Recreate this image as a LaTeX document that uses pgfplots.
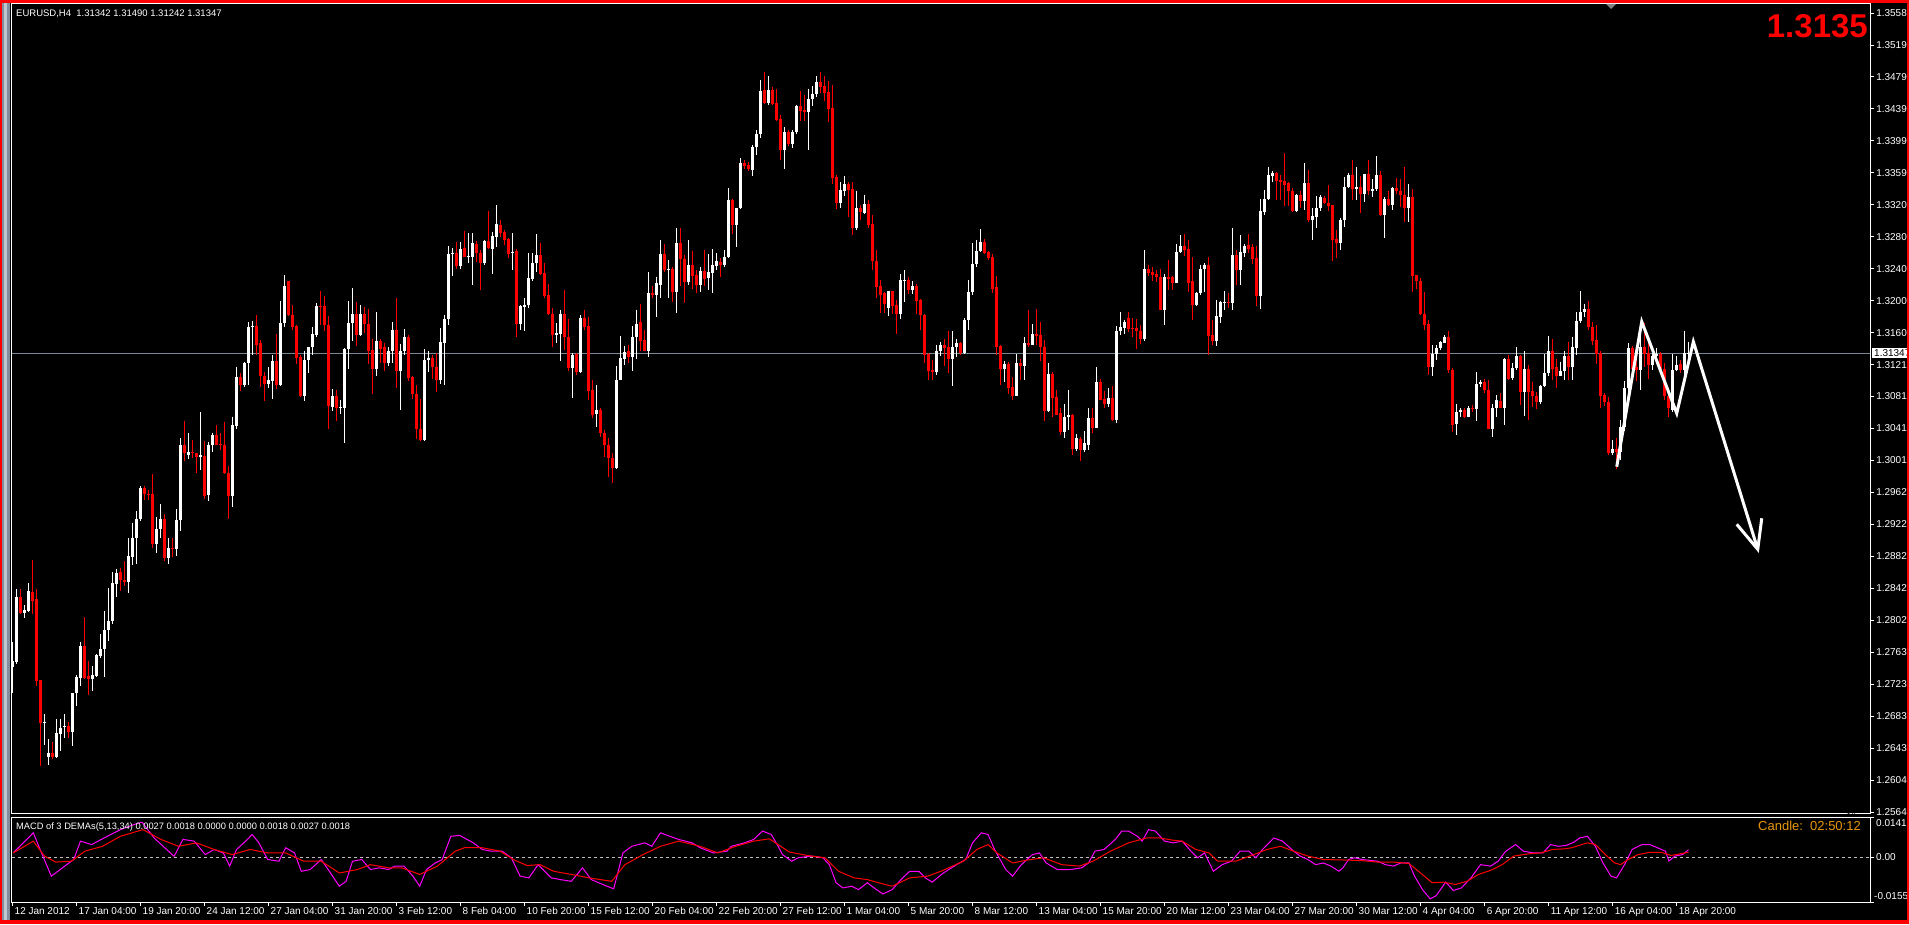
\documentclass[border=0pt]{standalone}
\usepackage{fontspec}
\setmainfont{Liberation Sans}
\usepackage{pgfplots}
\usepackage{pgfplotstable}
\pgfplotsset{compat=1.18}
\definecolor{mtred}{RGB}{255,0,0}
\definecolor{mtmag}{RGB}{255,0,255}
\definecolor{pline}{RGB}{119,136,153}
\definecolor{candleor}{RGB}{232,150,10}
\definecolor{winA}{RGB}{130,142,156}
\definecolor{winB}{RGB}{190,198,206}

\pgfplotstableread{
x o h l c
0 1.2744 1.2775 1.2712 1.2752
1 1.2750 1.2842 1.2748 1.2832
3 1.2812 1.2821 1.2805 1.2815
4 1.2814 1.2849 1.2813 1.2839
8 1.2675 1.2686 1.2647 1.2676
9 1.2632 1.2655 1.2622 1.2638
11 1.2632 1.2680 1.2631 1.2662
12 1.2661 1.2680 1.2640 1.2669
13 1.2670 1.2686 1.2656 1.2671
15 1.2664 1.2712 1.2646 1.2712
16 1.2712 1.2734 1.2696 1.2732
17 1.2731 1.2776 1.2721 1.2770
20 1.2730 1.2745 1.2715 1.2734
21 1.2733 1.2761 1.2732 1.2759
22 1.2758 1.2785 1.2756 1.2767
23 1.2767 1.2814 1.2732 1.2791
24 1.2791 1.2843 1.2777 1.2802
25 1.2801 1.2862 1.2798 1.2849
26 1.2848 1.2866 1.2832 1.2861
29 1.2850 1.2905 1.2837 1.2882
30 1.2881 1.2924 1.2871 1.2905
31 1.2905 1.2938 1.2872 1.2929
32 1.2928 1.2969 1.2926 1.2967
36 1.2898 1.2931 1.2886 1.2916
37 1.2916 1.2947 1.2905 1.2929
39 1.2880 1.2905 1.2873 1.2893
41 1.2891 1.2941 1.2882 1.2927
42 1.2927 1.3029 1.2913 1.3020
44 1.3008 1.3035 1.3003 1.3012
47 1.3006 1.3061 1.2990 1.3008
49 1.2958 1.3024 1.2951 1.3021
50 1.3020 1.3036 1.3012 1.3033
55 1.2957 1.3056 1.2944 1.3045
56 1.3044 1.3118 1.3041 1.3105
58 1.3095 1.3124 1.3093 1.3123
59 1.3122 1.3174 1.3095 1.3167
60 1.3167 1.3175 1.3133 1.3169
64 1.3097 1.3117 1.3092 1.3101
65 1.3100 1.3132 1.3078 1.3125
67 1.3095 1.3200 1.3094 1.3172
68 1.3172 1.3232 1.3167 1.3218
73 1.3081 1.3138 1.3075 1.3126
74 1.3126 1.3143 1.3110 1.3142
75 1.3142 1.3167 1.3132 1.3159
76 1.3157 1.3197 1.3155 1.3194
80 1.3068 1.3090 1.3063 1.3081
82 1.3066 1.3076 1.3059 1.3068
83 1.3066 1.3141 1.3023 1.3140
84 1.3140 1.3200 1.3115 1.3172
85 1.3172 1.3216 1.3150 1.3183
87 1.3157 1.3195 1.3156 1.3183
91 1.3115 1.3186 1.3106 1.3150
94 1.3122 1.3142 1.3119 1.3137
95 1.3137 1.3173 1.3122 1.3164
97 1.3113 1.3146 1.3064 1.3137
98 1.3137 1.3165 1.3133 1.3155
103 1.3027 1.3140 1.3025 1.3126
104 1.3126 1.3137 1.3111 1.3129
107 1.3101 1.3166 1.3097 1.3149
108 1.3148 1.3182 1.3095 1.3177
109 1.3177 1.3268 1.3170 1.3258
110 1.3258 1.3266 1.3231 1.3260
112 1.3243 1.3273 1.3240 1.3265
114 1.3255 1.3284 1.3247 1.3256
115 1.3255 1.3284 1.3219 1.3272
118 1.3247 1.3276 1.3244 1.3274
120 1.3265 1.3285 1.3233 1.3280
121 1.3279 1.3319 1.3267 1.3295
125 1.3259 1.3284 1.3238 1.3261
127 1.3171 1.3195 1.3164 1.3193
128 1.3192 1.3203 1.3162 1.3195
129 1.3195 1.3260 1.3191 1.3228
130 1.3227 1.3259 1.3224 1.3247
131 1.3247 1.3283 1.3236 1.3257
136 1.3157 1.3172 1.3147 1.3160
137 1.3159 1.3189 1.3125 1.3184
140 1.3116 1.3135 1.3079 1.3133
142 1.3111 1.3182 1.3110 1.3178
146 1.3059 1.3095 1.3043 1.3064
151 1.2992 1.3119 1.2991 1.3102
152 1.3102 1.3156 1.3101 1.3129
153 1.3128 1.3144 1.3120 1.3136
155 1.3130 1.3168 1.3113 1.3155
156 1.3155 1.3189 1.3128 1.3171
159 1.3137 1.3236 1.3130 1.3210
161 1.3207 1.3230 1.3180 1.3222
162 1.3220 1.3276 1.3204 1.3258
164 1.3238 1.3251 1.3204 1.3240
166 1.3211 1.3291 1.3185 1.3272
169 1.3223 1.3275 1.3220 1.3245
172 1.3220 1.3242 1.3211 1.3237
174 1.3228 1.3258 1.3213 1.3236
175 1.3235 1.3264 1.3210 1.3245
176 1.3243 1.3259 1.3238 1.3249
178 1.3244 1.3263 1.3242 1.3255
179 1.3254 1.3340 1.3253 1.3325
181 1.3294 1.3316 1.3267 1.3315
182 1.3315 1.3377 1.3314 1.3372
185 1.3363 1.3394 1.3355 1.3391
186 1.3391 1.3412 1.3381 1.3408
187 1.3408 1.3475 1.3402 1.3461
189 1.3446 1.3479 1.3444 1.3462
193 1.3387 1.3416 1.3364 1.3410
195 1.3395 1.3412 1.3390 1.3410
196 1.3410 1.3444 1.3408 1.3442
199 1.3435 1.3464 1.3388 1.3451
200 1.3451 1.3467 1.3442 1.3457
201 1.3457 1.3479 1.3453 1.3472
207 1.3322 1.3348 1.3316 1.3338
208 1.3337 1.3355 1.3330 1.3345
211 1.3290 1.3337 1.3288 1.3315
213 1.3309 1.3332 1.3308 1.3320
219 1.3191 1.3212 1.3181 1.3212
222 1.3184 1.3233 1.3177 1.3226
223 1.3225 1.3238 1.3199 1.3226
225 1.3213 1.3224 1.3208 1.3218
231 1.3111 1.3145 1.3108 1.3138
232 1.3138 1.3149 1.3131 1.3145
235 1.3128 1.3162 1.3094 1.3142
236 1.3142 1.3152 1.3130 1.3147
238 1.3135 1.3178 1.3134 1.3176
239 1.3176 1.3226 1.3164 1.3211
240 1.3211 1.3272 1.3207 1.3246
241 1.3246 1.3276 1.3242 1.3262
242 1.3262 1.3289 1.3261 1.3273
248 1.3115 1.3125 1.3099 1.3121
251 1.3081 1.3134 1.3081 1.3123
253 1.3119 1.3155 1.3101 1.3148
255 1.3145 1.3171 1.3145 1.3159
259 1.3063 1.3122 1.3061 1.3109
263 1.3037 1.3072 1.3029 1.3056
264 1.3055 1.3089 1.3039 1.3058
266 1.3016 1.3034 1.3013 1.3029
268 1.3014 1.3038 1.3012 1.3023
269 1.3020 1.3066 1.3014 1.3054
271 1.3042 1.3117 1.3042 1.3099
274 1.3071 1.3091 1.3068 1.3079
276 1.3052 1.3168 1.3048 1.3162
277 1.3162 1.3186 1.3157 1.3167
278 1.3166 1.3176 1.3159 1.3173
283 1.3152 1.3263 1.3150 1.3240
288 1.3188 1.3233 1.3170 1.3230
291 1.3222 1.3271 1.3222 1.3261
292 1.3261 1.3282 1.3259 1.3268
296 1.3195 1.3211 1.3194 1.3210
297 1.3210 1.3245 1.3207 1.3240
298 1.3239 1.3247 1.3211 1.3245
301 1.3150 1.3201 1.3144 1.3181
302 1.3180 1.3200 1.3172 1.3198
303 1.3197 1.3212 1.3189 1.3199
305 1.3197 1.3291 1.3189 1.3257
307 1.3238 1.3282 1.3220 1.3261
308 1.3260 1.3271 1.3255 1.3268
312 1.3206 1.3327 1.3190 1.3312
313 1.3311 1.3338 1.3307 1.3326
314 1.3326 1.3367 1.3325 1.3356
315 1.3355 1.3362 1.3348 1.3359
321 1.3312 1.3333 1.3310 1.3331
323 1.3324 1.3371 1.3313 1.3346
325 1.3300 1.3315 1.3276 1.3305
326 1.3304 1.3330 1.3290 1.3315
327 1.3315 1.3331 1.3312 1.3329
332 1.3272 1.3303 1.3263 1.3301
333 1.3300 1.3354 1.3292 1.3342
334 1.3342 1.3359 1.3340 1.3356
336 1.3339 1.3367 1.3325 1.3341
338 1.3333 1.3358 1.3323 1.3358
340 1.3337 1.3351 1.3329 1.3339
341 1.3339 1.3380 1.3337 1.3356
343 1.3307 1.3329 1.3278 1.3327
345 1.3319 1.3341 1.3313 1.3340
349 1.3316 1.3345 1.3298 1.3329
355 1.3118 1.3145 1.3106 1.3134
356 1.3134 1.3145 1.3126 1.3141
357 1.3141 1.3150 1.3139 1.3149
358 1.3148 1.3157 1.3147 1.3155
361 1.3047 1.3072 1.3033 1.3061
362 1.3061 1.3066 1.3056 1.3064
364 1.3056 1.3069 1.3055 1.3066
366 1.3065 1.3111 1.3050 1.3096
367 1.3096 1.3102 1.3093 1.3099
370 1.3041 1.3072 1.3031 1.3067
371 1.3067 1.3083 1.3055 1.3076
373 1.3067 1.3129 1.3045 1.3128
375 1.3104 1.3122 1.3101 1.3116
376 1.3116 1.3142 1.3114 1.3131
378 1.3087 1.3137 1.3057 1.3115
382 1.3074 1.3095 1.3071 1.3094
383 1.3094 1.3134 1.3093 1.3110
384 1.3110 1.3156 1.3106 1.3137
387 1.3106 1.3124 1.3106 1.3113
388 1.3112 1.3138 1.3101 1.3131
390 1.3117 1.3155 1.3101 1.3143
391 1.3141 1.3186 1.3133 1.3175
392 1.3175 1.3212 1.3172 1.3186
393 1.3186 1.3196 1.3180 1.3190
400 1.3011 1.3027 1.3008 1.3016
402 1.3012 1.3052 1.3002 1.3043
403 1.3043 1.3100 1.3038 1.3091
404 1.3091 1.3147 1.3085 1.3141
407 1.3114 1.3163 1.3089 1.3143
410 1.3120 1.3142 1.3114 1.3131
411 1.3131 1.3141 1.3122 1.3134
415 1.3064 1.3134 1.3062 1.3114
416 1.3114 1.3131 1.3113 1.3120
418 1.3114 1.3163 1.3107 1.3135
419 1.31342 1.31490 1.31242 1.31347
}\bull

\pgfplotstableread{
x o h l c
2 1.2832 1.2842 1.2810 1.2812
5 1.2838 1.2877 1.2810 1.2826
6 1.2829 1.2841 1.2721 1.2727
7 1.2728 1.2728 1.2621 1.2675
10 1.2638 1.2651 1.2630 1.2633
14 1.2671 1.2676 1.2656 1.2664
18 1.2770 1.2806 1.2730 1.2731
19 1.2733 1.2752 1.2709 1.2730
27 1.2862 1.2868 1.2839 1.2852
28 1.2852 1.2876 1.2845 1.2850
33 1.2967 1.2970 1.2952 1.2959
34 1.2960 1.2964 1.2952 1.2959
35 1.2960 1.2984 1.2893 1.2898
38 1.2929 1.2935 1.2876 1.2880
40 1.2893 1.2905 1.2881 1.2891
43 1.3020 1.3051 1.3001 1.3010
45 1.3012 1.3027 1.3004 1.3010
46 1.3010 1.3011 1.2986 1.3006
48 1.3007 1.3026 1.2953 1.2957
51 1.3033 1.3045 1.3020 1.3021
52 1.3022 1.3036 1.3014 1.3020
53 1.3021 1.3049 1.2984 1.2986
54 1.2986 1.2995 1.2928 1.2957
57 1.3105 1.3110 1.3088 1.3095
61 1.3168 1.3182 1.3133 1.3145
62 1.3148 1.3151 1.3093 1.3106
63 1.3106 1.3111 1.3075 1.3097
66 1.3125 1.3159 1.3090 1.3095
69 1.3225 1.3225 1.3181 1.3182
70 1.3182 1.3195 1.3164 1.3167
71 1.3168 1.3170 1.3121 1.3129
72 1.3130 1.3132 1.3080 1.3081
77 1.3194 1.3212 1.3170 1.3193
78 1.3194 1.3206 1.3162 1.3170
79 1.3170 1.3181 1.3040 1.3069
81 1.3081 1.3089 1.3051 1.3066
86 1.3183 1.3198 1.3144 1.3157
88 1.3183 1.3192 1.3160 1.3171
89 1.3171 1.3190 1.3121 1.3137
90 1.3139 1.3152 1.3084 1.3115
92 1.3150 1.3152 1.3122 1.3140
93 1.3142 1.3148 1.3113 1.3122
96 1.3164 1.3203 1.3092 1.3113
99 1.3155 1.3158 1.3100 1.3104
100 1.3105 1.3106 1.3078 1.3084
101 1.3084 1.3095 1.3028 1.3040
102 1.3041 1.3078 1.3026 1.3027
105 1.3129 1.3132 1.3103 1.3118
106 1.3118 1.3135 1.3087 1.3102
111 1.3259 1.3273 1.3240 1.3243
113 1.3266 1.3287 1.3254 1.3255
116 1.3271 1.3274 1.3248 1.3259
117 1.3260 1.3263 1.3214 1.3247
119 1.3274 1.3312 1.3264 1.3266
122 1.3294 1.3301 1.3279 1.3284
123 1.3285 1.3288 1.3269 1.3276
124 1.3277 1.3278 1.3253 1.3258
126 1.3262 1.3264 1.3155 1.3171
132 1.3257 1.3272 1.3232 1.3233
133 1.3234 1.3247 1.3203 1.3206
134 1.3207 1.3221 1.3182 1.3184
135 1.3184 1.3191 1.3143 1.3157
138 1.3184 1.3214 1.3139 1.3155
139 1.3155 1.3177 1.3113 1.3116
141 1.3134 1.3135 1.3108 1.3111
143 1.3178 1.3189 1.3164 1.3167
144 1.3168 1.3180 1.3077 1.3088
145 1.3089 1.3101 1.3054 1.3058
147 1.3064 1.3066 1.3031 1.3035
148 1.3035 1.3039 1.3006 1.3021
149 1.3021 1.3029 1.2981 1.3004
150 1.3005 1.3011 1.2973 1.2992
154 1.3137 1.3145 1.3122 1.3130
157 1.3173 1.3196 1.3137 1.3150
158 1.3151 1.3164 1.3137 1.3137
160 1.3210 1.3218 1.3204 1.3207
163 1.3258 1.3271 1.3236 1.3238
165 1.3240 1.3242 1.3198 1.3211
167 1.3272 1.3290 1.3218 1.3252
168 1.3252 1.3257 1.3197 1.3223
170 1.3245 1.3262 1.3215 1.3231
171 1.3232 1.3238 1.3210 1.3220
173 1.3237 1.3263 1.3218 1.3227
177 1.3248 1.3253 1.3230 1.3244
180 1.3325 1.3326 1.3283 1.3294
183 1.3371 1.3375 1.3364 1.3368
184 1.3369 1.3373 1.3361 1.3364
188 1.3462 1.3484 1.3445 1.3446
190 1.3462 1.3466 1.3444 1.3445
191 1.3446 1.3464 1.3424 1.3425
192 1.3426 1.3431 1.3375 1.3387
194 1.3410 1.3412 1.3392 1.3395
197 1.3442 1.3461 1.3424 1.3436
198 1.3437 1.3456 1.3424 1.3435
202 1.3472 1.3485 1.3458 1.3466
203 1.3467 1.3479 1.3448 1.3459
204 1.3460 1.3473 1.3422 1.3439
205 1.3440 1.3468 1.3345 1.3353
206 1.3354 1.3356 1.3314 1.3322
209 1.3345 1.3348 1.3304 1.3338
210 1.3339 1.3348 1.3282 1.3290
212 1.3315 1.3319 1.3300 1.3310
214 1.3320 1.3325 1.3291 1.3294
215 1.3295 1.3307 1.3238 1.3249
216 1.3249 1.3263 1.3204 1.3217
217 1.3218 1.3226 1.3185 1.3207
218 1.3210 1.3211 1.3185 1.3196
220 1.3212 1.3212 1.3184 1.3194
221 1.3195 1.3201 1.3159 1.3184
224 1.3226 1.3230 1.3209 1.3213
226 1.3218 1.3221 1.3184 1.3200
227 1.3201 1.3202 1.3164 1.3182
228 1.3182 1.3184 1.3123 1.3133
229 1.3134 1.3135 1.3101 1.3113
230 1.3114 1.3126 1.3101 1.3111
233 1.3145 1.3152 1.3119 1.3141
234 1.3142 1.3162 1.3110 1.3128
237 1.3147 1.3149 1.3132 1.3135
243 1.3273 1.3277 1.3258 1.3260
244 1.3261 1.3262 1.3251 1.3253
245 1.3254 1.3258 1.3210 1.3215
246 1.3217 1.3231 1.3132 1.3143
247 1.3144 1.3145 1.3095 1.3115
249 1.3121 1.3124 1.3084 1.3092
250 1.3093 1.3105 1.3077 1.3081
252 1.3123 1.3127 1.3101 1.3119
254 1.3148 1.3189 1.3143 1.3145
256 1.3159 1.3190 1.3145 1.3156
257 1.3157 1.3174 1.3125 1.3142
258 1.3143 1.3151 1.3050 1.3063
260 1.3109 1.3111 1.3055 1.3079
261 1.3080 1.3089 1.3058 1.3058
262 1.3060 1.3067 1.3033 1.3037
265 1.3058 1.3059 1.3008 1.3016
267 1.3028 1.3030 1.3001 1.3014
270 1.3054 1.3067 1.3036 1.3042
272 1.3099 1.3103 1.3076 1.3077
273 1.3078 1.3088 1.3066 1.3071
275 1.3079 1.3094 1.3051 1.3052
279 1.3178 1.3186 1.3161 1.3165
280 1.3166 1.3178 1.3155 1.3165
281 1.3166 1.3177 1.3140 1.3162
282 1.3163 1.3170 1.3146 1.3153
284 1.3240 1.3245 1.3231 1.3234
285 1.3236 1.3242 1.3224 1.3232
286 1.3233 1.3238 1.3223 1.3229
287 1.3230 1.3240 1.3188 1.3188
289 1.3230 1.3251 1.3213 1.3227
290 1.3229 1.3231 1.3214 1.3222
293 1.3268 1.3283 1.3256 1.3263
294 1.3264 1.3276 1.3211 1.3222
295 1.3224 1.3254 1.3176 1.3195
299 1.3245 1.3254 1.3133 1.3156
300 1.3157 1.3176 1.3145 1.3150
304 1.3199 1.3210 1.3191 1.3197
306 1.3257 1.3263 1.3220 1.3238
309 1.3269 1.3283 1.3260 1.3265
310 1.3267 1.3271 1.3246 1.3252
311 1.3253 1.3268 1.3193 1.3206
316 1.3359 1.3360 1.3325 1.3349
317 1.3350 1.3356 1.3325 1.3348
318 1.3349 1.3384 1.3318 1.3344
319 1.3346 1.3348 1.3318 1.3336
320 1.3336 1.3340 1.3310 1.3312
322 1.3331 1.3336 1.3315 1.3324
324 1.3346 1.3363 1.3298 1.3300
328 1.3328 1.3330 1.3320 1.3321
329 1.3322 1.3344 1.3312 1.3318
330 1.3319 1.3319 1.3250 1.3276
331 1.3277 1.3288 1.3253 1.3272
335 1.3356 1.3375 1.3325 1.3339
337 1.3341 1.3355 1.3309 1.3333
339 1.3358 1.3375 1.3332 1.3337
342 1.3356 1.3361 1.3306 1.3307
344 1.3327 1.3336 1.3318 1.3319
346 1.3340 1.3353 1.3333 1.3336
347 1.3336 1.3352 1.3317 1.3332
348 1.3332 1.3366 1.3298 1.3316
350 1.3329 1.3339 1.3211 1.3231
351 1.3232 1.3232 1.3215 1.3224
352 1.3224 1.3228 1.3182 1.3183
353 1.3184 1.3211 1.3164 1.3170
354 1.3171 1.3176 1.3108 1.3118
359 1.3155 1.3162 1.3110 1.3114
360 1.3114 1.3116 1.3037 1.3045
363 1.3064 1.3066 1.3054 1.3055
365 1.3067 1.3070 1.3062 1.3065
368 1.3099 1.3103 1.3085 1.3089
369 1.3089 1.3101 1.3040 1.3041
372 1.3075 1.3085 1.3066 1.3067
374 1.3128 1.3132 1.3102 1.3103
377 1.3131 1.3133 1.3070 1.3087
379 1.3115 1.3120 1.3052 1.3087
380 1.3088 1.3099 1.3068 1.3081
381 1.3082 1.3086 1.3065 1.3074
385 1.3137 1.3152 1.3101 1.3115
386 1.3117 1.3128 1.3092 1.3107
389 1.3131 1.3149 1.3102 1.3117
394 1.3190 1.3200 1.3164 1.3167
395 1.3167 1.3174 1.3145 1.3150
396 1.3151 1.3170 1.3121 1.3134
397 1.3135 1.3137 1.3067 1.3082
398 1.3083 1.3085 1.3069 1.3074
399 1.3074 1.3080 1.3008 1.3010
401 1.3016 1.3029 1.2991 1.3012
405 1.3141 1.3144 1.3108 1.3115
406 1.3117 1.3128 1.3100 1.3114
408 1.3143 1.3172 1.3117 1.3134
409 1.3135 1.3155 1.3103 1.3120
412 1.3134 1.3136 1.3110 1.3114
413 1.3115 1.3122 1.3077 1.3081
414 1.3081 1.3085 1.3056 1.3066
417 1.3121 1.3126 1.3110 1.3114
}\bear

\pgfplotstableread{
x v
0.2 0.0016
5.2 0.0086
6.9 0.0028
9.7 -0.0065
15.3 -0.0007
17.0 0.0057
19.8 0.0045
23.7 0.0074
27.0 0.0097
30.4 0.0115
32.4 0.0123
35.4 0.0068
40.4 0.0004
42.6 0.0063
45.4 0.0057
48.2 0.0010
50.4 0.0028
52.7 0.0016
54.3 -0.0030
56.0 0.0028
58.3 0.0057
59.9 0.0080
61.6 0.0051
63.8 -0.0007
66.6 -0.0013
68.3 0.0034
70.5 0.0016
72.2 -0.0048
74.4 -0.0042
77.2 -0.0007
79.5 -0.0054
81.7 -0.0100
83.4 -0.0083
85.0 -0.0013
87.3 -0.0007
89.5 -0.0042
91.7 -0.0036
94.0 -0.0042
95.6 -0.0030
97.9 -0.0030
100.1 -0.0065
101.8 -0.0100
103.5 -0.0042
105.7 -0.0019
107.4 -0.0007
109.6 0.0074
111.8 0.0077
115.2 0.0051
117.4 0.0028
119.6 0.0022
122.4 0.0022
124.7 -0.0001
126.9 -0.0065
129.1 -0.0071
131.4 -0.0025
134.7 -0.0071
137.0 -0.0077
139.7 -0.0083
142.5 -0.0036
144.7 -0.0077
148.6 -0.0100
150.3 -0.0109
152.6 0.0016
154.8 0.0039
158.1 0.0051
159.8 0.0039
162.0 0.0086
164.3 0.0074
166.5 0.0063
169.9 0.0051
171.9 0.0034
175.2 0.0016
178.6 0.0022
179.7 0.0039
183.0 0.0051
185.3 0.0063
187.5 0.0092
189.7 0.0080
191.4 0.0039
192.5 0.0010
194.8 -0.0013
196.4 -0.0001
199.8 0.0005
202.6 -0.0001
204.2 -0.0025
205.9 -0.0088
207.6 -0.0106
209.8 -0.0100
211.5 -0.0112
213.7 -0.0088
216.0 -0.0112
217.6 -0.0127
219.9 -0.0112
222.1 -0.0077
224.3 -0.0048
226.6 -0.0048
228.2 -0.0071
229.9 -0.0086
232.7 -0.0054
236.0 -0.0025
238.3 -0.0007
240.0 0.0051
242.2 0.0086
243.9 0.0080
245.5 0.0028
248.3 -0.0042
250.0 -0.0065
252.2 -0.0025
255.0 0.0010
256.7 0.0016
258.4 -0.0019
261.2 -0.0042
264.5 -0.0042
267.3 -0.0036
269.0 -0.0019
270.6 0.0022
272.9 0.0028
275.7 0.0063
277.3 0.0092
279.0 0.0092
281.2 0.0074
282.4 0.0057
284.0 0.0097
285.7 0.0092
288.0 0.0057
290.2 0.0051
292.4 0.0057
294.6 0.0022
296.3 -0.0001
298.0 0.0016
300.2 -0.0048
302.4 -0.0025
304.7 -0.0013
306.9 0.0022
309.1 0.0022
310.8 -0.0001
312.5 0.0028
315.3 0.0068
317.5 0.0057
320.3 0.0022
321.9 0.0005
323.8 -0.0007
325.8 -0.0025
327.7 -0.0019
329.6 -0.0030
331.6 -0.0048
332.6 -0.0036
334.0 -0.0007
335.5 -0.0001
337.4 -0.0007
341.3 -0.0013
343.2 -0.0025
345.2 -0.0030
347.1 -0.0019
349.1 -0.0019
350.5 -0.0065
352.5 -0.0112
354.4 -0.0144
355.9 -0.0133
358.3 -0.0086
360.2 -0.0115
362.2 -0.0106
364.6 -0.0071
367.0 -0.0025
369.5 -0.0030
371.4 -0.0013
373.3 0.0022
375.8 0.0045
377.7 0.0022
380.1 0.0016
382.6 0.0016
384.5 0.0045
386.4 0.0039
388.4 0.0042
390.3 0.0053
391.8 0.0068
393.7 0.0074
395.7 0.0039
397.6 -0.0019
399.6 -0.0065
401.0 -0.0071
403.0 -0.0025
404.9 0.0028
407.3 0.0045
409.3 0.0045
411.2 0.0034
413.2 0.0022
414.1 -0.0012
415.6 0.0005
417.5 0.0010
419.0 0.0027
}\macd

\pgfplotstableread{
x v
0.2 0.0016
5.2 0.0057
8.0 0.0005
10.8 -0.0016
14.7 -0.0013
18.1 0.0022
22.5 0.0039
27.0 0.0074
32.6 0.0097
37.1 0.0063
41.5 0.0039
46.0 0.0051
50.4 0.0028
54.9 0.0010
59.4 0.0028
63.8 0.0016
68.3 0.0016
72.8 -0.0013
77.2 -0.0013
81.7 -0.0054
86.2 -0.0042
89.5 -0.0025
94.0 -0.0036
97.3 -0.0036
101.8 -0.0059
106.2 -0.0030
110.7 0.0022
113.0 0.0034
117.4 0.0034
121.9 0.0022
125.2 -0.0007
128.6 -0.0028
131.9 -0.0025
135.3 -0.0048
139.7 -0.0059
144.2 -0.0071
149.8 -0.0083
153.1 -0.0025
157.6 0.0010
162.0 0.0039
166.5 0.0057
171.9 0.0039
176.3 0.0016
180.8 0.0039
185.3 0.0057
189.2 0.0065
191.4 0.0045
194.2 0.0019
198.7 0.0007
203.1 -0.0001
206.5 -0.0048
210.4 -0.0071
213.7 -0.0077
216.5 -0.0088
219.9 -0.0100
224.3 -0.0071
228.8 -0.0065
232.1 -0.0048
237.7 -0.0013
241.1 0.0028
243.9 0.0045
246.1 0.0016
250.0 -0.0019
254.5 -0.0007
257.8 -0.0001
262.3 -0.0025
266.7 -0.0030
270.1 -0.0013
274.5 0.0022
279.0 0.0051
283.5 0.0068
286.8 0.0068
290.2 0.0060
292.4 0.0057
295.8 0.0028
299.1 0.0016
301.3 -0.0013
305.8 -0.0013
310.3 0.0010
313.6 0.0028
317.0 0.0039
320.3 0.0022
323.8 0.0005
327.7 -0.0007
333.5 -0.0009
337.4 -0.0011
341.3 -0.0016
345.2 -0.0016
349.1 -0.0021
352.0 -0.0054
354.9 -0.0088
357.8 -0.0086
360.7 -0.0094
363.6 -0.0083
366.5 -0.0059
369.5 -0.0045
372.4 -0.0025
375.3 0.0005
379.2 0.0013
382.1 0.0016
385.0 0.0028
387.9 0.0030
389.8 0.0034
393.7 0.0051
395.7 0.0045
398.6 0.0005
400.5 -0.0019
402.0 -0.0025
403.9 -0.0007
406.4 0.0010
409.3 0.0018
412.2 0.0018
414.6 0.0007
417.0 0.0013
419.0 0.0018
}\signal

\begin{document}
\begin{tikzpicture}[x=1pt,y=1pt]
\useasboundingbox (0,0) rectangle (1909,924);
\fill[black] (0,0) rectangle (1909,924);
\fill[winA] (2,0) rectangle (10,924);
\fill[winB] (4,0) rectangle (7,924);

\begin{axis}[
  at={(12pt,110pt)}, anchor=south west,
  width=1858pt, height=810pt, scale only axis,
  xmin=-0.125, xmax=464.375, ymin=1.25615, ymax=1.35692,
  axis line style={white, line width=1pt},
  xtick=\empty,
  ytick={1.25640,1.26038,1.26435,1.26833,1.27230,1.27628,1.28026,1.28423,1.28821,1.29218,1.29616,1.30014,1.30411,1.30809,1.31206,1.31604,1.32002,1.32399,1.32797,1.33194,1.33592,1.33990,1.34387,1.34785,1.35182,1.35580},
  yticklabels={1.25640,1.26040,1.26430,1.26830,1.27230,1.27630,1.28020,1.28420,1.28820,1.29220,1.29620,1.30010,1.30410,1.30810,1.31210,1.31600,1.32000,1.32400,1.32800,1.33200,1.33590,1.33990,1.34390,1.34790,1.35190,1.35580},
  ytick pos=right, yticklabel pos=right,
  tick align=outside, major tick length=4pt,
  tick style={white, line width=0.8pt},
  yticklabel style={font=\fontsize{10}{12}\selectfont, text=white, anchor=west, inner sep=0pt, xshift=2pt},
]
\addplot[pline, line width=1pt, forget plot] coordinates {(-0.125,1.31347) (464.375,1.31347)};
% wicks
\addplot[draw=none, forget plot, error bars/.cd, y dir=minus, y explicit, error mark=none,
  error bar style={draw=white, line width=1pt}]
  table[x=x, y=h, y error minus expr=\thisrow{h}-\thisrow{l}] {\bull};
\addplot[draw=none, forget plot, error bars/.cd, y dir=minus, y explicit, error mark=none,
  error bar style={draw=mtred, line width=1pt}]
  table[x=x, y=h, y error minus expr=\thisrow{h}-\thisrow{l}] {\bear};
% bodies
\addplot[draw=none, forget plot, error bars/.cd, y dir=minus, y explicit, error mark=none,
  error bar style={draw=white, line width=3pt, line cap=butt}]
  table[x=x, y=c, y error minus expr={max(\thisrow{c}-\thisrow{o},0.00012)}] {\bull};
\addplot[draw=none, forget plot, error bars/.cd, y dir=minus, y explicit, error mark=none,
  error bar style={draw=mtred, line width=3pt, line cap=butt}]
  table[x=x, y=o, y error minus expr={max(\thisrow{o}-\thisrow{c},0.00012)}] {\bear};
% drawn pattern arrow
\addplot[white, line width=3pt, forget plot] coordinates {(401.05,1.29936) (407.3,1.31740) (416.05,1.30600) (420.2,1.31491) (436.3,1.28908)};
\addplot[white, line width=3pt, forget plot] coordinates {(431.05,1.29219) (436.3,1.28908) (437.3,1.29294)};
\end{axis}

\begin{axis}[
  at={(12pt,22pt)}, anchor=south west,
  width=1858pt, height=85pt, scale only axis,
  xmin=-0.125, xmax=464.375, ymin=-0.0155, ymax=0.0141,
  axis line style={white, line width=1pt},
  xtick={0,16,...,416},
  xticklabels={12 Jan 2012, 17 Jan 04:00, 19 Jan 20:00, 24 Jan 12:00, 27 Jan 04:00, 31 Jan 20:00, 3 Feb 12:00, 8 Feb 04:00, 10 Feb 20:00, 15 Feb 12:00, 20 Feb 04:00, 22 Feb 20:00, 27 Feb 12:00, 1 Mar 04:00, 5 Mar 20:00, 8 Mar 12:00, 13 Mar 04:00, 15 Mar 20:00, 20 Mar 12:00, 23 Mar 04:00, 27 Mar 20:00, 30 Mar 12:00, 4 Apr 04:00, 6 Apr 20:00, 11 Apr 12:00, 16 Apr 04:00, 18 Apr 20:00},
  xtick pos=bottom,
  ytick={-0.0155,0,0.0141}, yticklabels={{},{},{}},
  ytick pos=right,
  tick align=outside, major tick length=4pt,
  tick style={white, line width=0.8pt},
  xticklabel style={font=\fontsize{10}{12}\selectfont, text=white, anchor=north west, inner sep=0pt, xshift=2pt, yshift=-1pt},
]
\addplot[white!75!black, line width=1pt, dash pattern=on 3pt off 3pt, forget plot] coordinates {(-0.125,0) (464.375,0)};
\addplot[mtmag, line width=1pt, forget plot] table[x=x, y=v] {\macd};
\addplot[mtred, line width=1pt, forget plot] table[x=x, y=v] {\signal};
\end{axis}

% texts
\node[anchor=west, text=white, font=\fontsize{9.5}{11}\selectfont, inner sep=0pt] at (16,910) {EURUSD,H4\ \ 1.31342 1.31490 1.31242 1.31347};
\node[anchor=base east, text=mtred, font=\bfseries\fontsize{33}{33}\selectfont, inner sep=0pt] at (1868,886) {1.3135};
\node[anchor=west, text=white, font=\fontsize{9.3}{11}\selectfont, inner sep=0pt] at (16,97) {MACD of 3 DEMAs(5,13,34) 0.0027 0.0018 0.0000 0.0000 0.0018 0.0027 0.0018};
\node[anchor=east, text=candleor, font=\fontsize{13}{15}\selectfont, inner sep=0pt] at (1861,98) {Candle:\ \ 02:50:12};
\node[anchor=west, text=white, font=\fontsize{10}{12}\selectfont, inner sep=0pt] at (1876,101) {0.0141};
\node[anchor=west, text=white, font=\fontsize{10}{12}\selectfont, inner sep=0pt] at (1876,67) {0.00};
\node[anchor=west, text=white, font=\fontsize{10}{12}\selectfont, inner sep=0pt] at (1874,28) {-0.0155};
% current price box
\fill[white] (1872,565.5) rectangle (1909,576);
\node[anchor=west, text=black, font=\fontsize{10}{12}\selectfont, inner sep=0pt] at (1874,570.7) {1.31347};
% shift marker
\fill[gray] (1606,920) -- (1616,920) -- (1611,915) -- cycle;
% red frame
\fill[mtred] (0,921) rectangle (1909,924);
\fill[mtred] (0,0) rectangle (1909,4);
\fill[mtred] (0,0) rectangle (2,924);
\fill[mtred] (1906.5,0) rectangle (1909,924);
\end{tikzpicture}
\end{document}
